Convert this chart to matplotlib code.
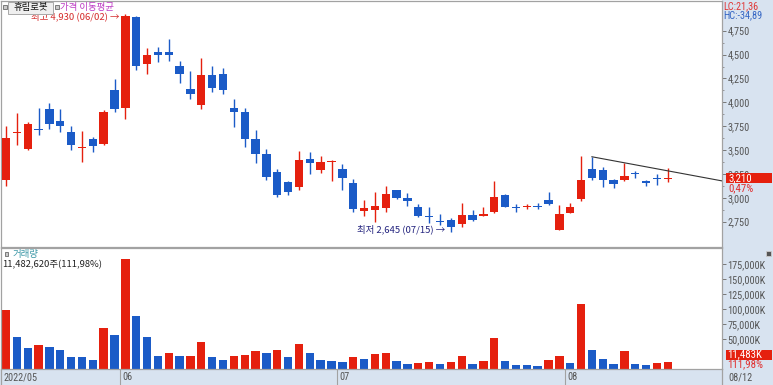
import matplotlib
matplotlib.use('Agg')
import matplotlib.pyplot as plt
from matplotlib.patches import Rectangle
from matplotlib.lines import Line2D
from matplotlib import transforms, font_manager
from matplotlib.font_manager import FontProperties
from matplotlib.textpath import TextPath
from matplotlib.ticker import FixedLocator, FuncFormatter

_names = {f.name for f in font_manager.fontManager.ttflist}
_cands = ['Liberation Sans Narrow', 'DejaVu Sans Condensed', 'Noto Sans Condensed',
          'Roboto Condensed', 'Open Sans Condensed', 'Roboto', 'Liberation Sans']
NARROW = next((c for c in _cands if c in _names), 'DejaVu Sans')
KR = 'Noto Sans CJK KR'
plt.rcParams['font.family'] = [NARROW, KR, 'DejaVu Sans']

def fit_size(text, target_px):
    tp = TextPath((0, 0), text, size=10, prop=FontProperties(family=NARROW))
    w_pt = tp.get_extents().width
    return 10 * (target_px * 72 / 100) / w_pt

NS = min(fit_size('175,000K', 37), 8.0)     # narrow label size
BS = min(fit_size('11,483K', 34), 8.5)      # box label size

# ---------------- data ----------------
opens = [3187, 3675, 3511, 3720, 3933, 3808, 3693, 3522, 3616, 3564,
         4129, 3937, 4897, 4401, 4524, 4524, 4384, 4136, 3972, 4289,
         4297, 3937, 3902, 3613, 3456, 3274, 3169, 3110, 3407, 3291,
         3380, 3299, 3152, 2865, 2873, 2897, 3082, 3002, 2908, 2813,
         2760, 2768, 2723, 2820, 2810, 2855, 3030, 2907, 2900, 2910,
         2977, 2663, 2845, 2985, 3299, 3291, 3187, 3187, 3264, 3176,
         3205, 3200]
highs = [3752, 3885, 3797, 3937, 3990, 3927, 3752, 3703, 3640, 3920,
         4244, 4930, 4907, 4572, 4576, 4660, 4433, 4328, 4467, 4380,
         4356, 4032, 3944, 3710, 3508, 3299, 3180, 3490, 3477, 3438,
         3396, 3354, 3194, 2977, 3058, 3127, 3085, 3048, 2932, 2901,
         2831, 2786, 2949, 2873, 2907, 3180, 3040, 2932, 2932, 2943,
         3058, 2925, 2949, 3441, 3430, 3320, 3195, 3362, 3281, 3187,
         3250, 3315]
lows = [3124, 3553, 3505, 3658, 3718, 3693, 3501, 3378, 3477, 3556,
        3902, 3822, 4339, 4297, 4419, 4436, 4199, 4035, 3927, 4111,
        4084, 3745, 3535, 3362, 3187, 3006, 3030, 3082, 3250, 3257,
        3180, 3082, 2855, 2810, 2750, 2855, 2990, 2915, 2796, 2740,
        2716, 2645, 2698, 2757, 2805, 2845, 2900, 2855, 2880, 2880,
        2930, 2660, 2840, 2970, 3187, 3110, 3100, 3180, 3205, 3124,
        3135, 3170]
closes = [3630, 3690, 3773, 3705, 3773, 3755, 3553, 3535, 3546, 3902,
          3930, 4900, 4380, 4496, 4496, 4493, 4297, 4087, 4286, 4153,
          4129, 3902, 3613, 3456, 3221, 3030, 3064, 3396, 3362, 3378,
          3390, 3205, 2883, 2897, 2915, 3037, 2995, 2970, 2810, 2803,
          2752, 2692, 2820, 2768, 2831, 3012, 2907, 2890, 2910, 2900,
          2932, 2831, 2907, 3187, 3211, 3187, 3142, 3229, 3246, 3158,
          3195, 3210]
# volume in thousands of shares
volumes_k = [98300, 53900, 35500, 39400, 36700, 31700, 20600, 19400, 14400, 68300,
             56100, 183300, 88900, 53300, 21100, 27200, 21100, 22200, 45000, 19400,
             14400, 21100, 23300, 30000, 26100, 31700, 19400, 41700, 27200, 14400,
             14000, 11100, 19400, 16700, 24400, 26100, 12800, 8900, 10000, 11700,
             8900, 11700, 21700, 8900, 12800, 52200, 12800, 6100, 5900, 5000,
             15600, 21100, 10000, 107800, 31700, 16700, 7800, 30000, 8900, 6100,
             10254, 11483]
month_labels = ['2022/05', '06', '07', '08']
month_starts = [0, 11, 31, 52]          # candle index where each month begins
last_date = '08/12'
price_ticks = [2750, 3000, 3250, 3500, 3750, 4000, 4250, 4500, 4750]
volume_ticks = [50000, 75000, 100000, 125000, 150000, 175000]
trend_x = [54, 66]
trend_y = [3430, 3177]
stock_name = '휴림로봇'
high_text = '최고 4,930 (06/02) →'
high_idx, high_val = 11, 4930
low_text = '최저 2,645 (07/15) →'
low_idx, low_val = 41, 2645

RED = '#e5200e'
BLUE = '#1b5bc7'
STRIP = '#d8e3f0'
BORDER = '#a2a2a2'
TICKC = '#555555'

W, H = 773, 385
def fx(x): return x / W
def fy(y): return 1 - y / H

fig = plt.figure(figsize=(W / 100, H / 100), dpi=100)
fig.patch.set_facecolor('white')

# background strips
fig.add_artist(Rectangle((fx(722), 0), 1 - fx(722), 1, transform=fig.transFigure,
                         facecolor=STRIP, edgecolor='none', zorder=-3))
fig.add_artist(Rectangle((0, 0), fx(722), fy(369.5), transform=fig.transFigure,
                         facecolor=STRIP, edgecolor='none', zorder=-3))

ax_p = fig.add_axes([fx(1), fy(247), fx(722) - fx(1), fy(1) - fy(247)])
ax_v = fig.add_axes([fx(1), fy(369), fx(722) - fx(1), fy(248) - fy(369)])

n = len(opens)
xs = list(range(n))
spacing = 10.85
xmin = (1 - 6) / spacing
xmax = (722 - 6) / spacing

# candles
for i in xs:
    o, h, l, c = opens[i], highs[i], lows[i], closes[i]
    col = RED if c >= o else BLUE
    ax_p.vlines(i, l, h, color=col, lw=1.0, zorder=2)
    body = max(abs(c - o), 11)
    ax_p.bar(i, body, bottom=min(o, c) - (body - abs(c - o)) / 2, width=0.77,
             color=col, edgecolor='none', zorder=3)

ax_p.plot(trend_x, trend_y, color='#333333', lw=0.8, zorder=4)

ax_p.set_xlim(xmin, xmax)
ax_p.set_ylim(2485, 5061)

# volume bars (colour by change vs previous day)
vcols = []
for i, v in enumerate(volumes_k):
    vcols.append(RED if i == 0 or v >= volumes_k[i - 1] else BLUE)
ax_v.bar(xs, volumes_k, width=0.77, color=vcols, edgecolor='none')
ax_v.set_xlim(xmin, xmax)
ax_v.set_ylim(0, 201700)

for ax in (ax_p, ax_v):
    for s in ax.spines.values():
        s.set_color(BORDER)
        s.set_linewidth(0.9)
    ax.tick_params(axis='x', bottom=False, labelbottom=False)
    ax.yaxis.tick_right()
    ax.set_facecolor('white')

ax_p.yaxis.set_major_locator(FixedLocator(price_ticks))
ax_p.yaxis.set_minor_locator(FixedLocator([t + 125 for t in price_ticks[:-1]]))
ax_p.yaxis.set_major_formatter(FuncFormatter(lambda v, p: f'{int(v):,}'))
ax_p.tick_params(axis='y', which='major', direction='out', length=3.2, width=0.7,
                 color='#777777', labelsize=NS, labelcolor=TICKC, pad=1)
ax_p.tick_params(axis='y', which='minor', direction='out', length=1.6, width=0.6,
                 color='#888888')

ax_v.yaxis.set_major_locator(FixedLocator(volume_ticks))
ax_v.yaxis.set_major_formatter(FuncFormatter(lambda v, p: f'{int(v):,}K'))
ax_v.tick_params(axis='y', which='major', direction='out', length=2.8, width=0.7,
                 color='#777777', labelsize=NS, labelcolor=TICKC, pad=1)

# annotations of high / low
ax_p.text(high_idx - 0.55, high_val - 25, high_text, ha='right', va='center',
          color='#d42a2a', fontsize=6.8, family=[KR, 'DejaVu Sans'], zorder=6)
ax_p.text(low_idx - 0.55, low_val + 25, low_text, ha='right', va='center',
          color='#23237e', fontsize=6.8, family=[KR, 'DejaVu Sans'], zorder=6)

# last price box
tp = transforms.blended_transform_factory(fig.transFigure, ax_p.transData)
last = closes[-1]
ax_p.add_patch(Rectangle((fx(725.5), last - 50), fx(772) - fx(725.5), 100, transform=tp,
                         facecolor=RED, edgecolor='none', clip_on=False, zorder=7))
ax_p.text(fx(728), last, f'{last:,}', transform=tp, ha='left', va='center',
          color='white', fontsize=BS, zorder=8, clip_on=False)
ax_p.text(fx(728), last - 108, '0,47%', transform=tp, ha='left', va='center',
          color='#e03030', fontsize=BS, zorder=8, clip_on=False)

# last volume box
ax_v.add_artist(Rectangle((fx(725.5), fy(359.5)), fx(772) - fx(725.5), fy(350) - fy(359.5),
                          transform=fig.transFigure, facecolor=RED, edgecolor='none',
                          clip_on=False, zorder=7))
ax_v.text(fx(727.5), fy(354.7), f'{volumes_k[-1]:,}K', transform=fig.transFigure,
          ha='left', va='center', color='white', fontsize=BS, zorder=8, clip_on=False)
ax_v.text(fx(727.5), fy(364.5), '111,98%', transform=fig.transFigure,
          ha='left', va='center', color='#e03030', fontsize=BS, zorder=8, clip_on=False)

# right-top indicator text
fig.text(fx(723), fy(6), 'LC:21,36', color='#e03838', fontsize=NS, ha='left', va='center')
fig.text(fx(723), fy(15.5), 'HC:-34,89', color='#3566c4', fontsize=NS, ha='left', va='center')

# header (top-left)
def small_box(x, y, w=4, h=4, fc='#c9c9c9', ec='#6a6a6a'):
    fig.add_artist(Rectangle((fx(x), fy(y + h)), fx(w), h / H, transform=fig.transFigure,
                             facecolor=fc, edgecolor=ec, lw=0.6, zorder=9))

small_box(2.5, 5)
fig.add_artist(Rectangle((fx(8), fy(13.5)), fx(45), 11.5 / H, transform=fig.transFigure,
                         facecolor='#efefef', edgecolor='#a8a8a8', lw=0.7, zorder=9))
fig.text(fx(31), fy(7.5), stock_name, color='#111111', fontsize=6.8, ha='center',
         va='center', family=[KR, 'DejaVu Sans'], zorder=10)
small_box(54.5, 5)
fig.text(fx(59.5), fy(7.3), '가격 이동평균', color='#bd3cc4', fontsize=6.8, ha='left',
         va='center', family=[KR, 'DejaVu Sans'], zorder=10)

# volume header
small_box(4.5, 252, w=3.5, h=3.5)
fig.text(fx(12.5), fy(254), '거래량', color='#3b97a6', fontsize=6.8, ha='left',
         va='center', family=[KR, 'DejaVu Sans'], zorder=10)
fig.text(fx(2), fy(265), '11,482,620주(111,98%)', color='#222222', fontsize=6.8,
         ha='left', va='center', family=[KR, 'DejaVu Sans'], zorder=10)
small_box(766, 251, w=4.5, h=4.5, fc='#555555', ec='#cccccc')

# x-axis strip: month dividers and labels
tb = transforms.blended_transform_factory(ax_v.transData, fig.transFigure)
for lab, s in zip(month_labels, month_starts):
    bx = s - 0.5
    if s > 0:
        ax_v.add_line(Line2D([bx, bx], [fy(385), fy(369.5)], transform=tb, color=BORDER,
                             lw=0.8, clip_on=False))
        ax_v.text(bx + 0.2, fy(377.5), lab, transform=tb, ha='left', va='center',
                  color=TICKC, fontsize=NS, clip_on=False)
    else:
        fig.text(fx(3), fy(377.5), lab, ha='left', va='center', color=TICKC, fontsize=NS)
fig.add_artist(Line2D([fx(722), fx(722)], [fy(385), fy(369)], transform=fig.transFigure,
                      color=BORDER, lw=0.9))
fig.add_artist(Line2D([fx(1), fx(1)], [fy(385), fy(369)], transform=fig.transFigure,
                      color=BORDER, lw=0.9))
fig.text(fx(728), fy(377.5), last_date, ha='left', va='center', color=TICKC, fontsize=NS)

fig.savefig('out.png', dpi=100, facecolor='white')
